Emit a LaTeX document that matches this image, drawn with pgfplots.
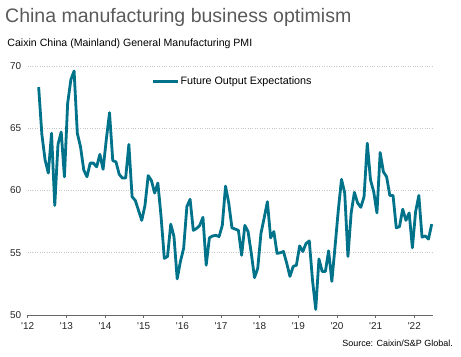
\documentclass[border=0pt]{standalone}
\usepackage{fontspec}
\setmainfont{Liberation Sans}
\usepackage{pgfplots}
\pgfplotsset{compat=1.18}
\definecolor{lineblue}{RGB}{0,114,138}
\definecolor{titlegray}{RGB}{90,90,90}
\begin{document}
\begin{tikzpicture}
\useasboundingbox (0,0) rectangle (461bp,-357bp);
\node[anchor=base west, inner sep=0pt, text=titlegray, font=\fontsize{19.6}{22}\selectfont] at (5bp,-22.7bp) {China manufacturing business optimism};
\node[anchor=base west, inner sep=0pt, font=\fontsize{10.6}{13}\selectfont] at (7.3bp,-46bp) {Caixin China (Mainland) General Manufacturing PMI};
\begin{axis}[
  at={(27.7bp,-315bp)}, anchor=south west,
  scale only axis, width=405.3bp, height=249bp,
  xmin=-0.4, xmax=125.4, ymin=50, ymax=70,
  xtick={-0.4,11.6,23.6,35.6,47.6,59.6,71.6,83.6,95.6,107.6,119.6},
  xticklabels={\textquotesingle12,\textquotesingle13,\textquotesingle14,\textquotesingle15,\textquotesingle16,\textquotesingle17,\textquotesingle18,\textquotesingle19,\textquotesingle20,\textquotesingle21,\textquotesingle22},
  ytick={50,55,60,65,70},
  axis x line*=bottom, axis y line*=left,
  y axis line style={draw=none},
  x axis line style={draw=black!60, line width=1bp},
  ytick style={draw=none},
  xtick style={draw=black!60, line width=0.8bp},
  tick align=outside, major tick length=3bp,
  ymajorgrids, grid style={dotted, black!22, line width=0.6bp},
  tick label style={font=\fontsize{10}{12}\selectfont, text=black!85},
  xticklabel style={yshift=-1.5bp},
  /pgf/number format/assume math mode=true,
  legend style={draw=none, fill=none, at={(0.306,0.937)}, anchor=west, inner sep=0pt,
    font=\fontsize{10.8}{13}\selectfont, nodes={inner sep=0.8bp}},
  legend image code/.code={\draw[#1] (0bp,0bp) -- (25bp,0bp);},
]
\addplot[lineblue, line width=2.8bp, line join=round] table {
3 68.3
4 64.5
5 62.45
6 61.4
7 64.6
8 58.8
9 63.7
10 64.7
11 61.1
12 67.0
13 68.9
14 69.6
15 64.6
16 63.5
17 61.65
18 61.1
19 62.2
20 62.2
21 61.9
22 62.9
23 61.7
24 64.1
25 66.25
26 62.4
27 62.3
28 61.3
29 61.0
30 61.0
31 63.7
32 59.5
33 59.2
34 58.4
35 57.6
36 58.8
37 61.2
38 60.8
39 59.8
40 60.6
41 57.9
42 54.55
43 54.7
44 57.3
45 56.3
46 52.9
47 54.3
48 55.35
49 58.7
50 59.3
51 56.8
52 56.95
53 57.2
54 57.85
55 54.0
56 56.2
57 56.35
58 56.4
59 56.3
60 57.2
61 60.35
62 59.0
63 57.0
64 56.9
65 56.8
66 54.8
67 57.2
68 56.7
69 54.95
70 53.0
71 53.75
72 56.55
73 57.8
74 59.1
75 56.2
76 56.7
77 54.95
78 55.0
79 55.1
80 54.15
81 53.1
82 53.9
83 54.0
84 55.55
85 55.1
86 55.75
87 55.95
88 52.8
89 50.45
90 54.5
91 53.5
92 53.5
93 55.15
94 52.7
95 55.5
96 58.4
97 60.9
98 59.8
99 54.7
100 58.2
101 59.85
102 59.0
103 58.65
104 59.5
105 63.8
106 60.85
107 59.9
108 58.2
109 63.05
110 61.5
111 61.1
112 59.6
113 59.6
114 57.0
115 57.1
116 58.5
117 57.6
118 58.2
119 55.4
120 58.3
121 59.6
122 56.25
123 56.35
124 56.1
125 57.3
};
\addlegendentry{Future Output Expectations}
\end{axis}
\node[anchor=base east, inner sep=0pt, font=\fontsize{9}{11}\selectfont] at (453bp,-346.5bp) {Source: Caixin/S\&P Global.};
\end{tikzpicture}
\end{document}
